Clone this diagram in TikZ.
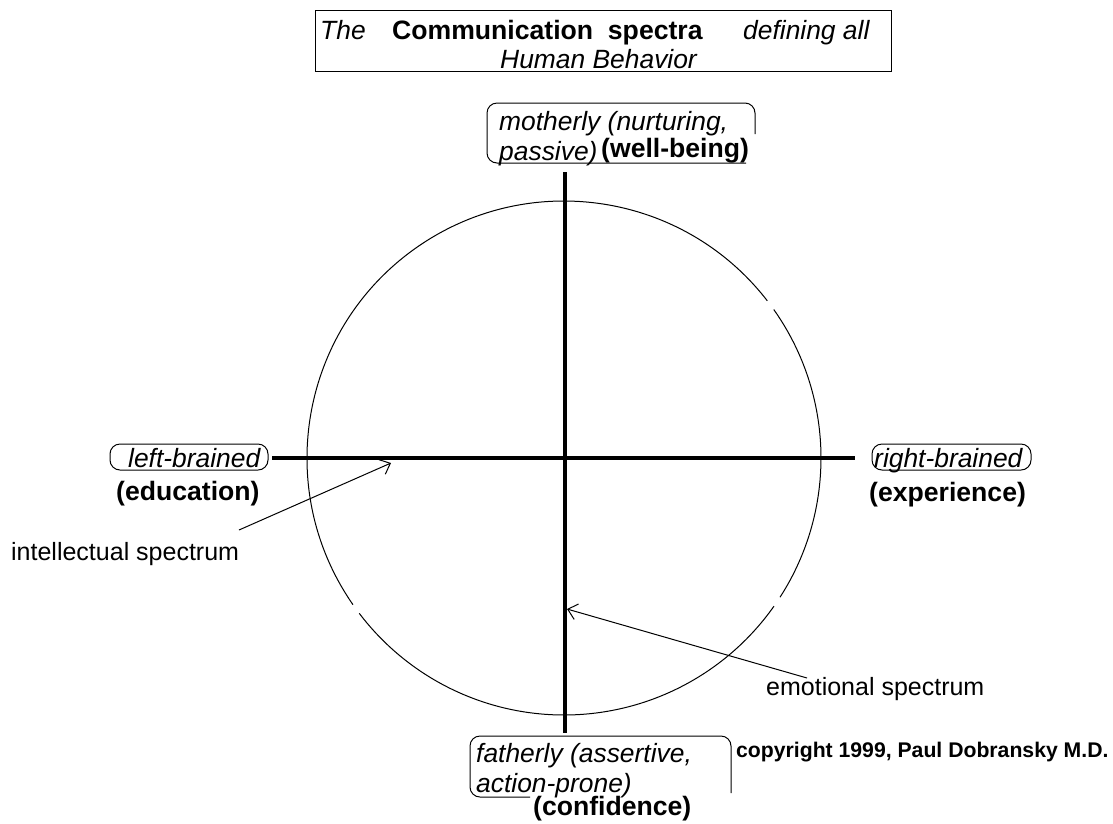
\documentclass[tikz,border=0pt]{standalone}
\usepackage{fontspec}
\setmainfont{Liberation Sans}
\usetikzlibrary{arrows.meta}
\begin{document}
\begin{tikzpicture}[x=1pt,y=-1pt,
  txt/.style={inner sep=0pt, anchor=base west, font=\fontsize{25}{30}\selectfont},
  it/.style={txt, font=\fontsize{26.4}{30}\selectfont\itshape},
  bf/.style={txt, font=\fontsize{26.6}{30}\selectfont\bfseries},
  small/.style={txt, font=\fontsize{21.2}{24}\selectfont\bfseries},
  axis/.style={line width=4.5pt},
  thinline/.style={line width=1pt},
  pointer/.style={line width=1pt, -{Straight Barb[length=9pt,width=16pt]}},
  frame/.style={line width=1pt, rounded corners=10pt}]
\useasboundingbox[fill=white] (0,0) rectangle (1113,823);

% title
\draw[thinline] (315,10) rectangle (891,71);
\node[it] (the) at (320,39) {The};
\node[bf] (comm) at (392,39) {Communication\ \ spectra};
\node[it] (def) at (743,39) {defining all};
\node[it] (hb) at (500,68) {Human Behavior};

% circle (with its small breaks) and axes
\node[circle, minimum size=514pt, inner sep=0pt] (circ) at (564,458) {};
\draw[thinline] (circ.center) ++(35.2:257) arc[start angle=35.2, end angle=142.8, radius=257];
\draw[thinline] (circ.center) ++(145.2:257) arc[start angle=145.2, end angle=322.3, radius=257];
\draw[thinline] (circ.center) ++(324.7:257) arc[start angle=324.7, end angle=392.8, radius=257];
\coordinate (top) at (565,172);
\coordinate (bot) at (565,733);
\coordinate (lft) at (272,458);
\coordinate (rgt) at (855,458);
\draw[axis] (top) -- (bot);
\draw[axis] (lft) -- (rgt);

% top label
\draw[frame] (755,134) -- (755,103) -- (487,103) -- (487,163) -- (746,163);
\node[it] (moth1) at (499,130) {motherly (nurturing,};
\node[it] (moth2) at (499,160) {passive)};
\node[bf] (well) at (601,157) {(well-being)};

% left label
\draw[frame] (110,444) rectangle (268,470);
\node[it] (lb) at (128,467) {left-brained};
\node[bf] (edu) at (116,500) {(education)};

% right label
\draw[frame] (872,444) rectangle (1031,470);
\node[it] (rb) at (874,467) {right-brained};
\node[bf] (exp) at (869,501) {(experience)};

% bottom label
\draw[frame] (731,793) -- (731,736) -- (470,736) -- (470,797) -- (530,797);
\node[it] (fat1) at (476,762) {fatherly (assertive,};
\node[it] (fat2) at (476,792) {action-prone)};
\node[bf] (conf) at (533,815) {(confidence)};

\node[small] (copy) at (736,757) {copyright 1999, Paul Dobransky M.D.};

% pointers
\node[txt] (intel) at (11,560) {intellectual spectrum};
\coordinate (ia) at (239,530);
\coordinate (ib) at (391,463);
\draw[pointer] (ia) -- (ib);

\node[txt] (emo) at (766,695) {emotional spectrum};
\coordinate (ea) at (807,678);
\coordinate (eb) at (567,609);
\draw[pointer] (ea) -- (eb);
\end{tikzpicture}
\end{document}
